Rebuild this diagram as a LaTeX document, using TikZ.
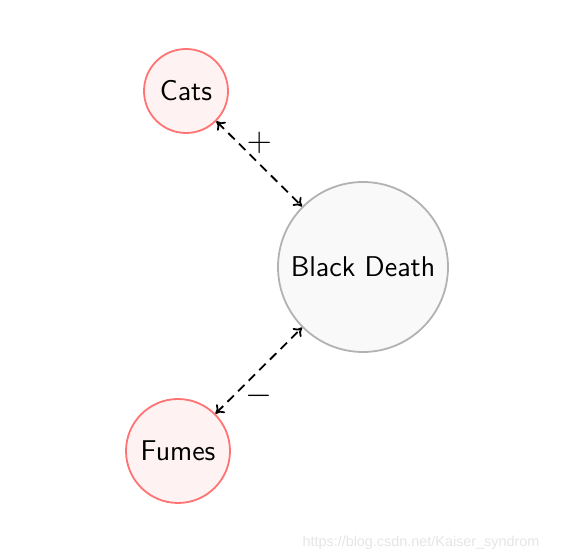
\documentclass[tikz,border=0pt]{standalone}
\usepackage{amsmath,amssymb}
\usepackage{tikz}
\usetikzlibrary{arrows.meta,positioning,calc}
\usepackage{xcolor}
\usepackage{fontspec}
\newfontfamily\markfont{Liberation Sans}

\tikzset{
  factor/.style={circle, draw=red!55, fill=red!5, line width=0.9pt, font=\sffamily\fontsize{14.3}{17}\selectfont},
  outcome/.style={circle, draw=black!30, fill=black!2.5, line width=0.9pt, font=\sffamily\fontsize{14.3}{17}\selectfont},
  link/.style={{To[length=4pt,width=6pt]}-{To[length=4pt,width=6pt]}, line width=0.9pt, dash pattern=on 4.5pt off 3pt}
}

\begin{document}
\begin{tikzpicture}[x=0.5pt, y=-0.5pt]
  \useasboundingbox (0,0) rectangle (574,560);
  \node[outcome, minimum size=85pt] (bd) at (363,267) {Black Death};
  \node[factor, minimum size=42pt] (cats) at (186,91) {Cats};
  \node[factor, minimum size=52pt] (fumes) at (178,451) {Fumes};
  \draw[link] (cats) -- (bd) node[midway, above=1.5pt, font=\LARGE] {$+$};
  \draw[link] (fumes) -- (bd) node[midway, below=3pt, font=\LARGE] {$-$};
  \node[text=black!10, font=\markfont\fontsize{7.2}{8}\selectfont] (mark) at (421,543) {https://blog.csdn.net/Kaiser\_syndrom};
\end{tikzpicture}
\end{document}
